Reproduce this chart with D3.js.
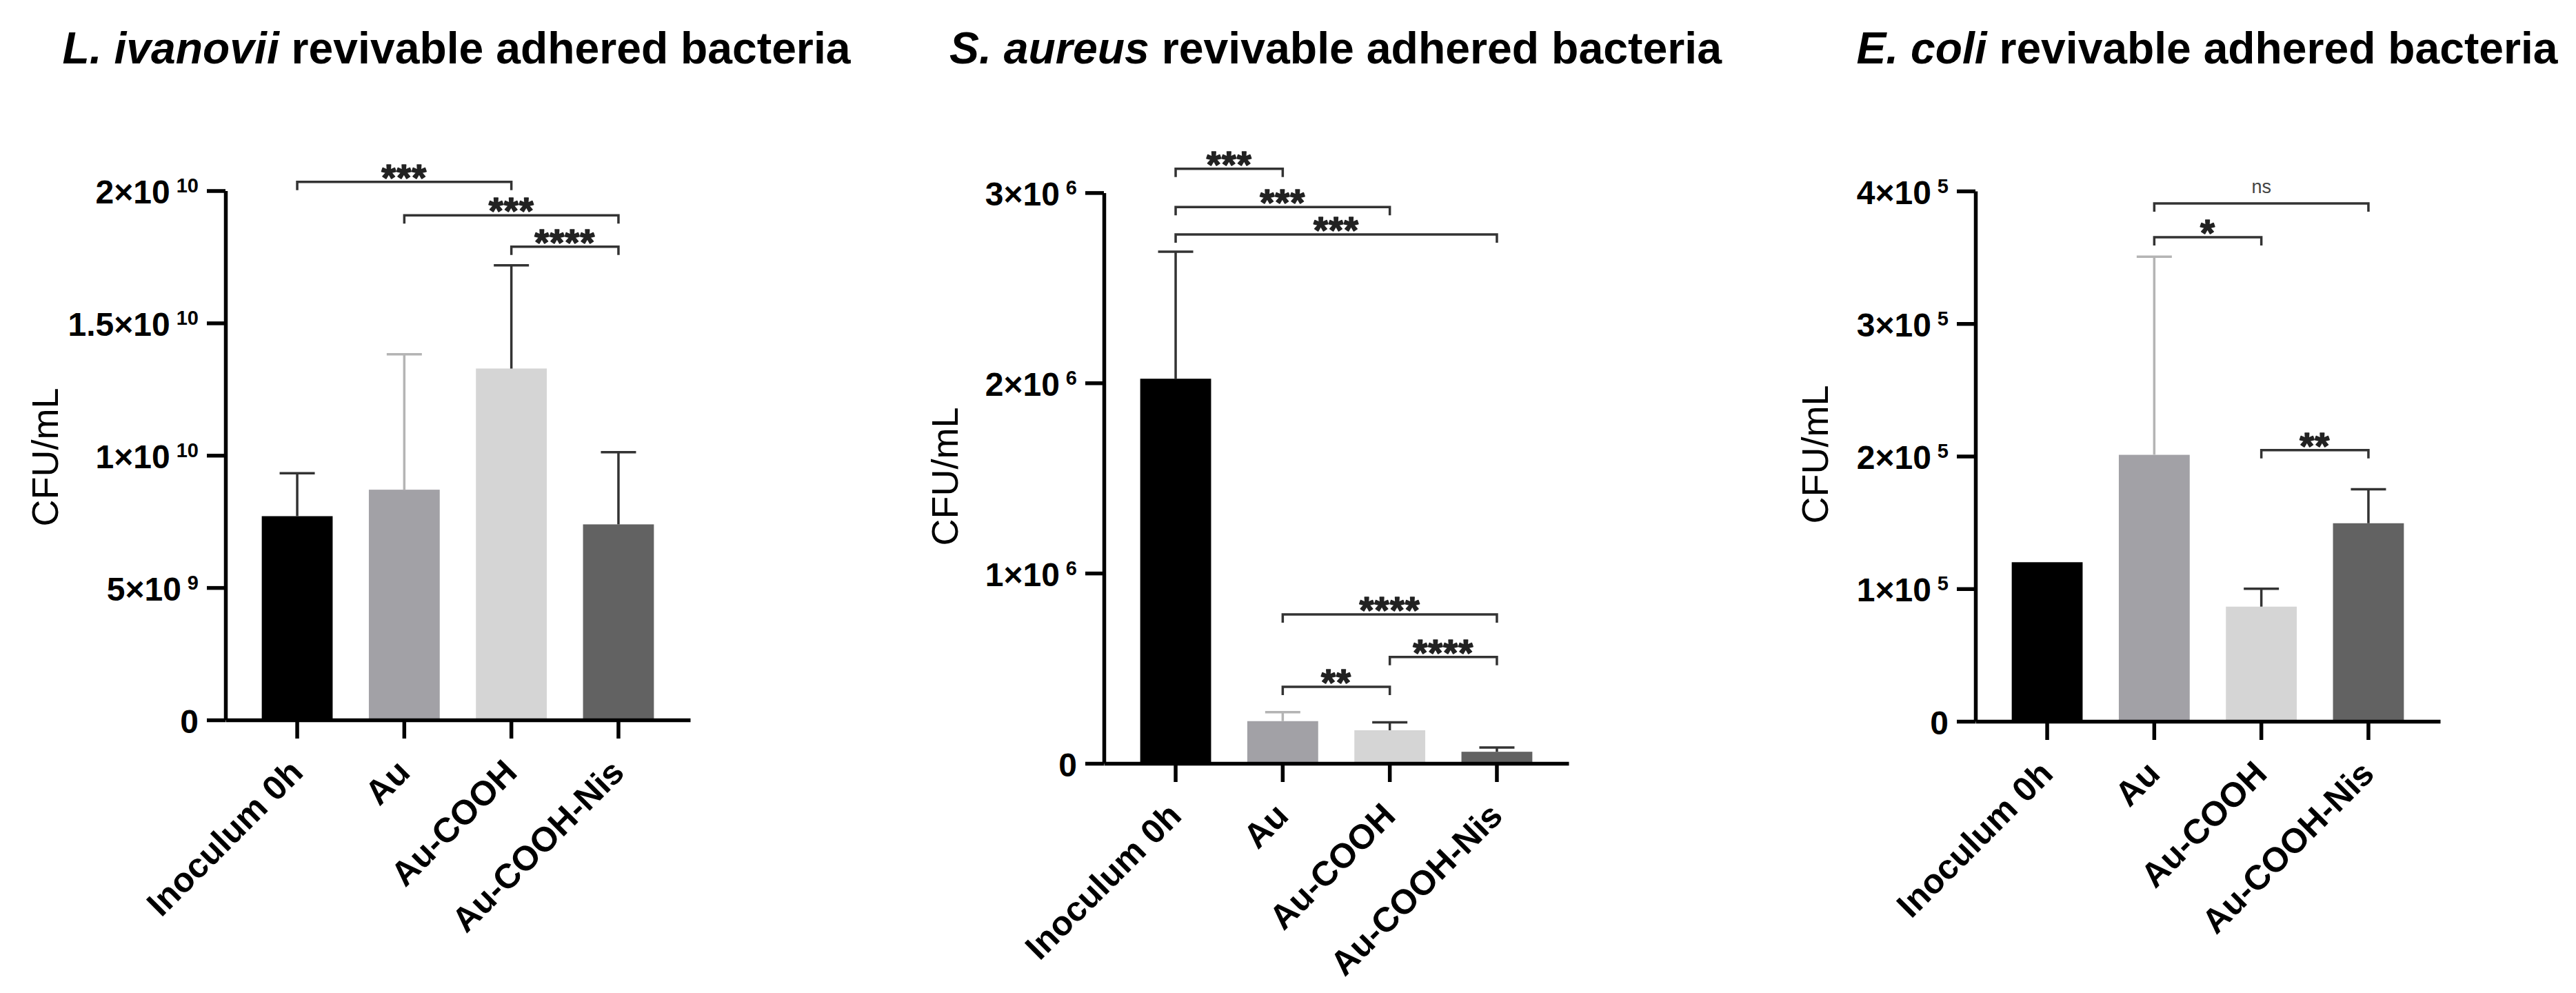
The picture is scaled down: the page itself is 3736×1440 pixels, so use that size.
<!DOCTYPE html>
<html>
<head>
<meta charset="utf-8">
<script src="https://cdn.jsdelivr.net/npm/d3@7"></script>
<style>
  html, body { margin: 0; padding: 0; background: #ffffff; }
  svg { display: block; }
  text { font-family: "Liberation Sans", Arial, Helvetica, sans-serif; }
</style>
</head>
<body>
<svg id="chart" width="3736" height="1440"></svg>
<script>
// ---------------- DATA ----------------
const categories = ["Inoculum 0h", "Au", "Au-COOH", "Au-COOH-Nis"];

// L. ivanovii
const liMean = [7.70e9, 8.70e9, 13.28e9, 7.39e9];
const liSD   = [1.62e9, 5.12e9, 3.90e9, 2.73e9];
const liTicks = [0, 5e9, 1e10, 1.5e10, 2e10];
const liTickLabels = [["0", ""], ["5×10", "9"], ["1×10", "10"], ["1.5×10", "10"], ["2×10", "10"]];
const liComparisons = [
  [0, 2, "***", 20.33e9],
  [1, 3, "***", 19.07e9],
  [2, 3, "****", 17.88e9]
];

// S. aureus
const saMean = [2.022e6, 0.222e6, 0.174e6, 0.061e6];
const saSD   = [0.668e6, 0.047e6, 0.042e6, 0.022e6];
const saTicks = [0, 1e6, 2e6, 3e6];
const saTickLabels = [["0", ""], ["1×10", "6"], ["2×10", "6"], ["3×10", "6"]];
const saComparisons = [
  [0, 1, "***", 3.126e6],
  [0, 2, "***", 2.924e6],
  [0, 3, "***", 2.780e6],
  [1, 3, "****", 0.783e6],
  [2, 3, "****", 0.559e6],
  [1, 2, "**", 0.402e6]
];

// E. coli
const ecMean = [1.20e5, 2.01e5, 0.865e5, 1.494e5];
const ecSD   = [0, 1.494e5, 0.135e5, 0.256e5];
const ecTicks = [0, 1e5, 2e5, 3e5, 4e5];
const ecTickLabels = [["0", ""], ["1×10", "5"], ["2×10", "5"], ["3×10", "5"], ["4×10", "5"]];
const ecComparisons = [
  [1, 3, "ns", 3.907e5],
  [1, 2, "*", 3.652e5],
  [2, 3, "**", 2.045e5]
];

const titles = [
  ["L. ivanovii", " revivable adhered bacteria"],
  ["S. aureus", " revivable adhered bacteria"],
  ["E. coli", " revivable adhered bacteria"]
];
const yAxisTitle = "CFU/mL";

// ---------------- STYLE ----------------
const barColors = ["#000000", "#a2a1a6", "#d5d5d5", "#626262"];
const errColors = ["#333333", "#b4b4b4", "#333333", "#333333"];
const axisW = 5.5;

const svg = d3.select("#chart");

function drawPanel(p) {
  const g = svg.append("g");
  const y = d3.scaleLinear().domain([0, p.yMax]).range([p.zeroY, p.topY]);
  const x = d3.scaleBand().domain(categories)
    .range([p.x0, p.x0 + 674]).paddingInner(0.338).paddingOuter(0.339);
  const cx = i => x(categories[i]) + x.bandwidth() / 2;

  // title
  const t = g.append("text")
    .attr("x", p.titleX).attr("y", 92)
    .attr("text-anchor", "middle")
    .attr("font-size", 65).attr("font-weight", "bold").attr("fill", "#000")
    .attr("textLength", p.titleW).attr("lengthAdjust", "spacingAndGlyphs");
  t.append("tspan").attr("font-style", "italic").text(p.title[0]);
  t.append("tspan").text(p.title[1]);

  // y axis title
  g.append("text")
    .attr("transform", `translate(${p.labX},${p.labY}) rotate(-90)`)
    .attr("text-anchor", "middle")
    .attr("font-size", 54).attr("fill", "#000")
    .text(yAxisTitle);

  // bars
  g.selectAll("rect.bar").data(p.mean).enter().append("rect")
    .attr("class", "bar")
    .attr("x", (d, i) => x(categories[i]))
    .attr("width", x.bandwidth())
    .attr("y", d => y(d))
    .attr("height", d => p.zeroY - y(d))
    .attr("fill", (d, i) => barColors[i]);

  // error bars
  p.mean.forEach((m, i) => {
    const sd = p.sd[i];
    if (!sd) return;
    const eg = g.append("g").attr("stroke", errColors[i]).attr("stroke-width", 3.5);
    eg.append("line").attr("x1", cx(i)).attr("x2", cx(i)).attr("y1", y(m)).attr("y2", y(m + sd));
    eg.append("line").attr("x1", cx(i) - 25.5).attr("x2", cx(i) + 25.5).attr("y1", y(m + sd)).attr("y2", y(m + sd));
  });

  // y axis
  const ya = g.append("g").attr("transform", `translate(${p.x0},0)`)
    .call(d3.axisLeft(y).tickValues(p.ticks).tickSize(27).tickSizeOuter(0).tickFormat(() => ""));
  ya.select(".domain").attr("stroke", "#000").attr("stroke-width", axisW);
  ya.selectAll(".tick line").attr("stroke", "#000").attr("stroke-width", axisW);
  ya.selectAll(".tick text").remove();
  ya.selectAll(".tick").each(function (d, i) {
    const lab = p.tickLabels[i];
    const tx = d3.select(this).append("text")
      .attr("x", -39).attr("y", 18)
      .attr("text-anchor", "end").attr("font-weight", "bold").attr("fill", "#000");
    tx.append("tspan").attr("font-size", 48).text(lab[0]);
    if (lab[1]) tx.append("tspan").attr("font-size", 29).attr("dx", 9).attr("dy", -16).text(lab[1]);
  });

  // x axis
  const xa = g.append("g").attr("transform", `translate(0,${p.zeroY})`)
    .call(d3.axisBottom(x).tickSize(27).tickSizeOuter(0).tickFormat(() => ""));
  xa.select(".domain").attr("stroke", "#000").attr("stroke-width", axisW);
  xa.selectAll(".tick line").attr("stroke", "#000").attr("stroke-width", axisW);
  xa.selectAll(".tick text").remove();
  xa.selectAll(".tick").append("text")
    .attr("transform", "translate(11,79) rotate(-45)")
    .attr("text-anchor", "end")
    .attr("font-size", 50).attr("font-weight", "bold").attr("fill", "#000")
    .text(d => d);

  // significance brackets
  p.comps.forEach(c => {
    const [a, b, lab, h] = c;
    const yy = y(h);
    const x1 = cx(a), x2 = cx(b);
    g.append("path")
      .attr("d", `M${x1},${yy + 12}V${yy}H${x2}V${yy + 12}`)
      .attr("fill", "none").attr("stroke", "#333").attr("stroke-width", 3.5);
    if (lab === "ns") {
      g.append("text").attr("x", (x1 + x2) / 2).attr("y", yy - 15)
        .attr("text-anchor", "middle").attr("font-size", 27).attr("fill", "#444").text(lab);
    } else {
      g.append("text").attr("x", (x1 + x2) / 2).attr("y", yy + 12)
        .attr("text-anchor", "middle").attr("font-size", 54).attr("font-weight", "bold")
        .attr("letter-spacing", 1).attr("fill", "#222")
        .attr("stroke", "#222").attr("stroke-width", 1.5).attr("stroke-linejoin", "round")
        .text(lab);
    }
  });
}

drawPanel({
  mean: liMean, sd: liSD, ticks: liTicks, tickLabels: liTickLabels, comps: liComparisons,
  yMax: 2e10, x0: 327, zeroY: 1044, topY: 276.5,
  title: titles[0], titleX: 662, titleW: 1143, labX: 84, labY: 663
});
drawPanel({
  mean: saMean, sd: saSD, ticks: saTicks, tickLabels: saTickLabels, comps: saComparisons,
  yMax: 3e6, x0: 1601, zeroY: 1107, topY: 279.4,
  title: titles[1], titleX: 1937, titleW: 1120, labX: 1389, labY: 691
});
drawPanel({
  mean: ecMean, sd: ecSD, ticks: ecTicks, tickLabels: ecTickLabels, comps: ecComparisons,
  yMax: 4e5, x0: 2865, zeroY: 1046, topY: 277,
  title: titles[2], titleX: 3201, titleW: 1017, labX: 2651, labY: 659
});
</script>
</body>
</html>
